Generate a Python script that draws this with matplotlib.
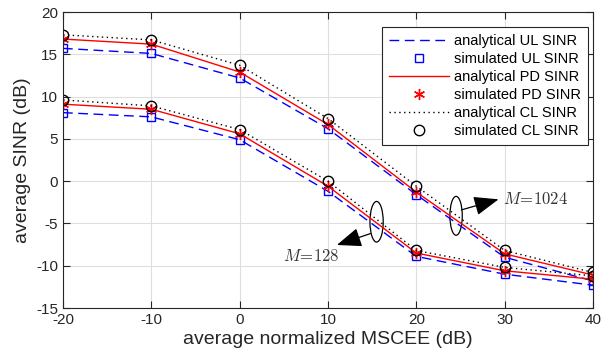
import matplotlib
matplotlib.use('Agg')
import matplotlib.pyplot as plt
from matplotlib.patches import Ellipse
from matplotlib.lines import Line2D

plt.rcParams['font.family'] = ['Liberation Sans', 'DejaVu Sans']
plt.rcParams['mathtext.fontset'] = 'cm'
plt.rcParams['axes.unicode_minus'] = False

# MSCEE axis (dB)
mscee = [-20, -10, 0, 10, 20, 30, 40]

# M = 1024 curves
ul_1024 = [15.7, 15.1, 12.2, 6.2, -1.6, -9.0, -11.8]
pd_1024 = [16.8, 16.2, 12.9, 6.7, -1.3, -8.6, -11.1]
cl_1024 = [17.3, 16.7, 13.7, 7.4, -0.6, -8.2, -10.8]

# M = 128 curves
ul_128 = [8.1, 7.6, 4.9, -1.2, -8.9, -11.0, -12.3]
pd_128 = [9.1, 8.5, 5.6, -0.6, -8.5, -10.6, -11.6]
cl_128 = [9.6, 8.9, 6.1, 0.0, -8.2, -10.2, -11.2]

labels = ['analytical UL SINR', 'simulated UL SINR',
          'analytical PD SINR', 'simulated PD SINR',
          'analytical CL SINR', 'simulated CL SINR']

fig = plt.figure(figsize=(6.03, 3.62), dpi=100)
ax = fig.add_axes([63 / 603, 1 - 308 / 362, 530 / 603, 296 / 362])

ul_style = dict(color='blue', ls=(0, (7, 4)), lw=1.0)
pd_style = dict(color='red', ls='-', lw=1.0)
cl_style = dict(color='black', ls=(0, (1, 2.5)), lw=1.0)
ul_mk = dict(ls='none', marker='s', ms=6, mfc='none', mec='blue', mew=1.0)
pd_mk = dict(ls='none', marker=(6, 2, 0), ms=8, mec='red', mew=1.0)
cl_mk = dict(ls='none', marker='o', ms=7.5, mfc='none', mec='black', mew=1.0)

for ul, pd_, cl in [(ul_1024, pd_1024, cl_1024), (ul_128, pd_128, cl_128)]:
    ax.plot(mscee, ul, **ul_style)
    ax.plot(mscee, ul, **ul_mk)
    ax.plot(mscee, pd_, **pd_style)
    ax.plot(mscee, pd_, **pd_mk)
    ax.plot(mscee, cl, **cl_style)
    ax.plot(mscee, cl, **cl_mk)

ax.set_xlim(-20, 40)
ax.set_ylim(-15, 20)
ax.set_xticks(range(-20, 41, 10))
ax.set_yticks(range(-15, 21, 5))
ax.grid(True, color='#dedede', lw=0.8)
ax.set_axisbelow(True)
ax.tick_params(direction='in', top=True, right=True, length=5, width=0.8,
               labelsize=11, colors='#262626')
for s in ax.spines.values():
    s.set_color('#262626')
    s.set_linewidth(0.8)

ax.set_xlabel('average normalized MSCEE (dB)', fontsize=14, color='#262626', labelpad=3)
ax.set_ylabel('average SINR (dB)', fontsize=14, color='#262626', labelpad=4)

# ellipses and arrows marking the two antenna groups
ax.add_patch(Ellipse((15.5, -4.8), 1.5, 4.8, fill=False, ec='black', lw=0.9))
ax.add_patch(Ellipse((24.5, -4.1), 1.4, 4.6, fill=False, ec='black', lw=0.9))
arrow = dict(arrowstyle='-|>,head_length=0.9,head_width=0.35', color='black',
             lw=0.9, mutation_scale=17, shrinkA=0, shrinkB=0)
ax.annotate('', xy=(11.0, -7.55), xytext=(14.8, -6.2), arrowprops=arrow)
ax.annotate('', xy=(29.3, -2.15), xytext=(25.1, -3.4), arrowprops=arrow)
ax.text(8.1, -8.9, r'$M\!=\!128$', fontsize=12, ha='center', va='center', color='#333333')
ax.text(29.8, -2.1, r'$M\!=\!1024$', fontsize=12, ha='left', va='center', color='#333333')

handles = [Line2D([], [], **ul_style), Line2D([], [], **ul_mk),
           Line2D([], [], **pd_style), Line2D([], [], **pd_mk),
           Line2D([], [], **cl_style), Line2D([], [], **cl_mk)]
leg = ax.legend(handles, labels, loc='upper right', bbox_to_anchor=(0.9906, 0.949),
                borderaxespad=0, fontsize=10.5, fancybox=False, framealpha=1,
                edgecolor='#262626', handlelength=4.1, labelspacing=0.28,
                borderpad=0.45, handletextpad=0.4)
leg.get_frame().set_linewidth(0.8)

fig.savefig('out.png', dpi=100)
